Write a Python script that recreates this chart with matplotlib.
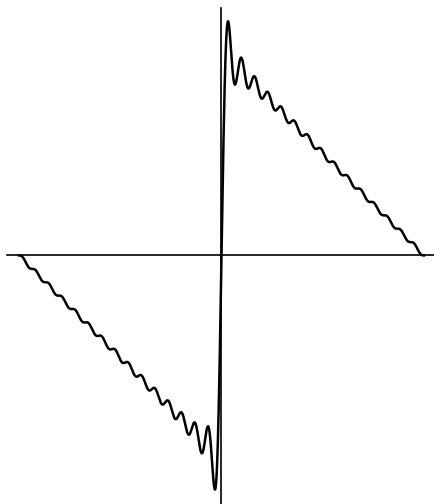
'''Partial Fourier sum of a sawtooth wave (Gibbs phenomenon)'''
import numpy as np
import matplotlib
matplotlib.use('Agg')
import matplotlib.pyplot as plt

# sine coefficients b_n of the partial sum, n = 1..30
coeffs = [1, 1/2, 1/3, 1/4, 1/5, 1/6, 1/7, 1/8, 1/9, 1/10,
          1/11, 1/12, 1/13, 1/14, 1/15, 1/16, 1/17, 1/18, 1/19, 1/20,
          1/21, 1/22, 1/23, 1/24, 1/25, 1/26, 1/27, 1/28, 1/29, 1/30]
x_start, x_end = -np.pi, np.pi


def partial_sum(x):
    total = np.zeros_like(x)
    for n, b in enumerate(coeffs, start=1):
        total += b * np.sin(n * x)
    return total


def main():
    x = np.linspace(x_start, x_end, 4000)
    y = partial_sum(x)

    fig = plt.figure(figsize=(4.35, 5.04), dpi=100)
    ax = fig.add_axes([0, 0, 1, 1])
    ax.plot(x, y, color='black', lw=1.8, solid_joinstyle='round')
    # axes drawn as plain lines
    ax.plot([-3.33, 3.3], [0, 0], color='black', lw=1.2)
    ax.plot([0, 0], [-1.92, 1.90], color='black', lw=1.2)

    ax.set_xlim(-3.436, 3.312)
    ax.set_ylim(-1.912, 1.965)
    ax.axis('off')
    fig.savefig('out.png', dpi=100, facecolor='white')


if __name__ == '__main__':
    main()
